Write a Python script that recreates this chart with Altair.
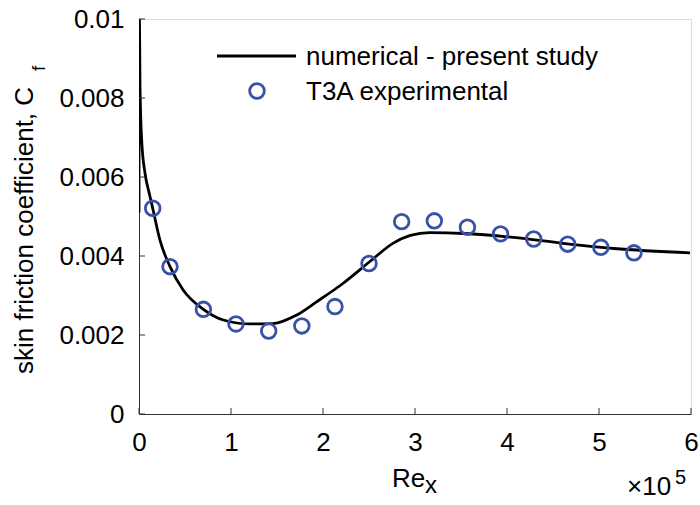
import altair as alt
import pandas as pd

# ---------------- data ----------------
# numerical curve (x in units of 1e5)
curve_x = [0.000, 0.003, 0.011, 0.030, 0.065, 0.110, 0.149, 0.228, 0.337, 0.480, 0.700,
           0.917, 1.210, 1.460, 1.710, 1.930, 2.220, 2.510, 2.760, 2.950, 3.160,
           3.530, 4.070, 4.610, 5.160, 5.990]
curve_cf = [0.00510, 0.01050, 0.00830, 0.00690, 0.00610, 0.00560, 0.00521, 0.00440, 0.00373,
            0.00314, 0.00265, 0.00238, 0.00228, 0.00229, 0.00250, 0.00284, 0.00331,
            0.00386, 0.00432, 0.00452, 0.00459, 0.00457, 0.00447, 0.00432, 0.00419,
            0.00408]

# T3A experimental points
exp_x = [0.149, 0.337, 0.700, 1.054, 1.410, 1.770, 2.130, 2.500, 2.855, 3.210,
         3.570, 3.930, 4.290, 4.660, 5.020, 5.380]
exp_cf = [0.00521, 0.00373, 0.00265, 0.00228, 0.00210, 0.00223, 0.00272, 0.00381,
          0.00487, 0.00489, 0.00473, 0.00456, 0.00443, 0.00430, 0.00422, 0.00408]

x_ticks = [0, 1, 2, 3, 4, 5, 6]
y_ticks = [0, 0.002, 0.004, 0.006, 0.008, 0.01]

legend_labels = ["numerical - present study", "T3A experimental"]
y_title = "skin friction coefficient, C"
y_title_sub = "f"
x_title = "Re"
x_title_sub = "x"
x_mult = "\u00d710"
x_mult_exp = "5"

# ---------------- style ----------------
FONT = "Liberation Sans"
FS = 26
AX = "#333333"
BLUE = "#3a52a6"
W, H = 552, 395

xs = alt.Scale(domain=[0, 6], nice=False, zero=False)
ys = alt.Scale(domain=[0, 0.01], nice=False, zero=False)

curve = pd.DataFrame({"x": curve_x, "cf": curve_cf, "i": list(range(len(curve_x)))})
exp = pd.DataFrame({"x": exp_x, "cf": exp_cf})

line = alt.Chart(curve).mark_line(
    color="black", strokeWidth=2.8, clip=True, interpolate="monotone"
).encode(
    x=alt.X("x:Q", scale=xs, title=None,
            axis=alt.Axis(values=x_ticks, format="d", ticks=False, tickSize=0,
                          labelPadding=15, labelFont=FONT, labelFontSize=FS,
                          labelColor="black", domainColor=AX, domainWidth=1,
                          grid=False, labelFlush=False, labelOverlap=False)),
    y=alt.Y("cf:Q", scale=ys, title=None,
            axis=alt.Axis(values=y_ticks, format=".3~f", ticks=False, tickSize=0,
                          labelPadding=15, labelFont=FONT, labelFontSize=FS,
                          labelColor="black", domainColor=AX, domainWidth=1,
                          grid=False, labelFlush=False, labelOverlap=False)),
    order="i:Q",
)

pts = alt.Chart(exp).mark_point(
    shape="circle", filled=False, color=BLUE, strokeWidth=2.8, size=215, opacity=1
).encode(
    x=alt.X("x:Q", scale=xs, title=None),
    y=alt.Y("cf:Q", scale=ys, title=None),
)

xt = alt.Chart(pd.DataFrame({"x": x_ticks})).mark_rule(color=AX, strokeWidth=1).encode(
    x=alt.X("x:Q", scale=xs, title=None),
    y=alt.value(H), y2=alt.value(H - 6),
)
yt = alt.Chart(pd.DataFrame({"cf": y_ticks})).mark_rule(color=AX, strokeWidth=1).encode(
    y=alt.Y("cf:Q", scale=ys, title=None),
    x=alt.value(0), x2=alt.value(6),
)

def txt(s, x, y, size=FS, angle=0, align="left", baseline="alphabetic"):
    kw = dict(font=FONT, fontSize=size, color="black", align=align, baseline=baseline)
    if angle:
        kw["angle"] = angle
    return alt.Chart(pd.DataFrame({"t": [s]})).mark_text(**kw).encode(
        text="t:N", x=alt.value(x), y=alt.value(y))

# legend
leg_line = alt.Chart(pd.DataFrame({"t": [legend_labels[0]]})).mark_rule(
    color="black", strokeWidth=2.8).encode(x=alt.value(78), x2=alt.value(157), y=alt.value(37))
leg_pt = alt.Chart(pd.DataFrame({"t": [legend_labels[1]]})).mark_point(
    shape="circle", filled=False, color=BLUE, strokeWidth=2.8, size=215, opacity=1
).encode(x=alt.value(118), y=alt.value(72))
leg_t1 = txt(legend_labels[0], 167, 38, baseline="middle")
leg_t2 = txt(legend_labels[1], 167, 73, baseline="middle")

# axis titles
yl = txt(y_title, -106, 355, angle=270)
yl_sub = txt(y_title_sub, -94, 52, size=19, angle=270)
xl = txt(x_title, 253, 468)
xl_sub = txt(x_title_sub, 286, 474, size=24)
xm = txt(x_mult, 488, 476)
xm_exp = txt(x_mult_exp, 536, 465, size=20)

chart = alt.layer(
    line, pts, xt, yt, leg_line, leg_pt, leg_t1, leg_t2,
    yl, yl_sub, xl, xl_sub, xm, xm_exp
).properties(
    width=W, height=H,
    autosize=alt.AutoSizeParams(type="none"),
    padding={"left": 139, "top": 19, "right": 9, "bottom": 91},
).configure_view(stroke=None).configure(background="white")

chart.save("out.html", embed_options={"renderer": "svg", "actions": False})
